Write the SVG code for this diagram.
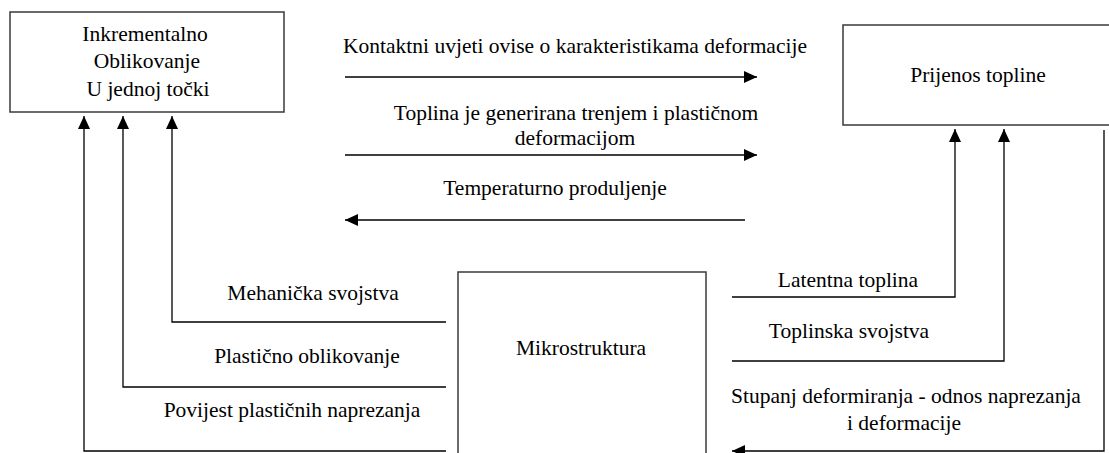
<svg xmlns="http://www.w3.org/2000/svg" width="1109" height="453" viewBox="0 0 1109 453">
<style>
.box{fill:#fff;stroke:#3a3a3a;stroke-width:1.5}
.c{fill:none;stroke:#000;stroke-width:1.3}
</style>
<defs>
<marker id="ah" markerUnits="userSpaceOnUse" markerWidth="14" markerHeight="12" refX="13" refY="6" orient="auto">
<path d="M0,0 L13,6 L0,12 Z" fill="#000"/>
</marker>
</defs>
<rect width="1109" height="453" fill="#fff"/>
<g id="n-inkrementalno">
<rect class="box" x="10" y="12" width="274" height="100"/>
<text font-family="Liberation Serif" font-size="21.5" text-anchor="middle" x="145" y="41">Inkrementalno</text>
<text font-family="Liberation Serif" font-size="21.5" text-anchor="middle" x="147" y="68">Oblikovanje</text>
<text font-family="Liberation Serif" font-size="21.5" text-anchor="middle" x="148" y="96">U jednoj točki</text>
</g>
<g id="n-prijenos">
<rect class="box" x="843" y="25" width="280" height="100"/>
<text font-family="Liberation Serif" font-size="21.5" text-anchor="middle" x="978" y="82">Prijenos topline</text>
</g>
<g id="n-mikrostruktura">
<rect class="box" x="458" y="272" width="248" height="200"/>
<text font-family="Liberation Serif" font-size="21.5" text-anchor="middle" x="581" y="355">Mikrostruktura</text>
</g>
<g id="connectors">
<line class="c" x1="345" y1="77" x2="757" y2="77" marker-end="url(#ah)"/>
<line class="c" x1="345" y1="155" x2="757" y2="155" marker-end="url(#ah)"/>
<line class="c" x1="745" y1="220" x2="345" y2="220" marker-end="url(#ah)"/>
<polyline class="c" points="446,322 172,322 172,116" marker-end="url(#ah)"/>
<polyline class="c" points="446,387 123,387 123,116" marker-end="url(#ah)"/>
<polyline class="c" points="446,451 84,451 84,116" marker-end="url(#ah)"/>
<polyline class="c" points="732,297 955,297 955,129" marker-end="url(#ah)"/>
<polyline class="c" points="732,361 1004,361 1004,129" marker-end="url(#ah)"/>
<polyline class="c" points="1104,130 1104,451 732,451" marker-end="url(#ah)"/>
<text font-family="Liberation Serif" font-size="21.5" text-anchor="middle" x="575" y="53">Kontaktni uvjeti ovise o karakteristikama deformacije</text>
<text font-family="Liberation Serif" font-size="21.5" text-anchor="middle" x="576" y="120">Toplina je generirana trenjem i plastičnom</text>
<text font-family="Liberation Serif" font-size="21.5" text-anchor="middle" x="575" y="145">deformacijom</text>
<text font-family="Liberation Serif" font-size="21.5" text-anchor="middle" x="555" y="195">Temperaturno produljenje</text>
<text font-family="Liberation Serif" font-size="21.5" text-anchor="middle" x="313" y="300">Mehanička svojstva</text>
<text font-family="Liberation Serif" font-size="21.5" text-anchor="middle" x="307" y="363">Plastično oblikovanje</text>
<text font-family="Liberation Serif" font-size="21.5" text-anchor="middle" x="292" y="417">Povijest plastičnih naprezanja</text>
<text font-family="Liberation Serif" font-size="21.5" text-anchor="middle" x="848" y="287">Latentna toplina</text>
<text font-family="Liberation Serif" font-size="21.5" text-anchor="middle" x="849" y="338">Toplinska svojstva</text>
<text font-family="Liberation Serif" font-size="21.5" text-anchor="middle" x="906" y="403">Stupanj deformiranja - odnos naprezanja</text>
<text font-family="Liberation Serif" font-size="21.5" text-anchor="middle" x="904" y="430">i deformacije</text>
</g>
</svg>
